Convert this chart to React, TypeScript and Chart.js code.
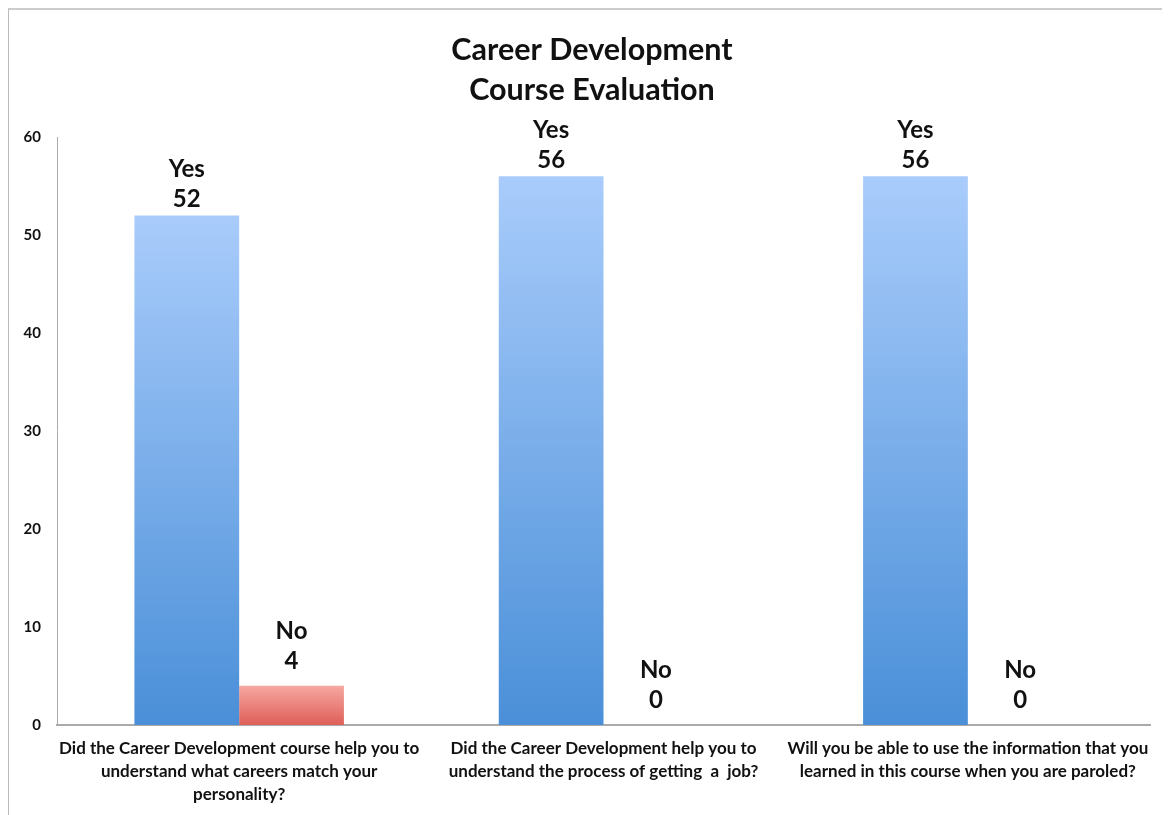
import React, { useEffect, useRef } from "react";
import { Chart, registerables } from "chart.js";

Chart.register(...registerables);

const categories: string[][] = [
  ["Did the Career Development course help you to", "understand what careers match your", "personality?"],
  ["Did the Career Development help you to", "understand the process of getting  a  job?"],
  ["Will you be able to use the information that you", "learned in this course when you are paroled?"],
];
const yesValues = [52, 56, 56];
const noValues = [4, 0, 0];
const titleLines = ["Career Development", "Course Evaluation"];
const FONT = "Lato, 'Open Sans', sans-serif";

const labelPlugin = {
  id: "barLabels",
  afterDatasetsDraw(chart: any) {
    const ctx = chart.ctx;
    ctx.save();
    ctx.fillStyle = "#111";
    ctx.textAlign = "center";
    ctx.textBaseline = "middle";
    // title
    ctx.font = `bold 30.5px ${FONT}`;
    titleLines.forEach((t, i) => {
      ctx.fillText(t, 583, 40 + i * 40);
    });
    // value labels
    ctx.font = `bold 24px ${FONT}`;
    chart.data.datasets.forEach((ds: any, di: number) => {
      const meta = chart.getDatasetMeta(di);
      const off = di === 0 ? 16 : 25;
      meta.data.forEach((el: any, i: number) => {
        const v = ds.data[i];
        ctx.fillText(String(v), el.x, el.y - off);
        ctx.fillText(ds.label, el.x, el.y - off - 30);
      });
    });
    // category labels
    const xs = chart.scales.x;
    ctx.font = `bold 17px ${FONT}`;
    chart.data.labels.forEach((lines: string[], i: number) => {
      const x = xs.getPixelForValue(i);
      lines.forEach((t: string, j: number) => {
        ctx.fillText(t, x, xs.top + 24 + j * 23);
      });
    });
    ctx.restore();
  },
};

function makeGradient(ctx: any, top: string, bottom: string) {
  const chart = ctx.chart;
  const area = chart.chartArea;
  if (!area) return bottom;
  const v = ctx.raw ?? 0;
  const yTop = chart.scales.y.getPixelForValue(v);
  const yBot = chart.scales.y.getPixelForValue(0);
  if (yBot - yTop < 1) return bottom;
  const g = chart.ctx.createLinearGradient(0, yTop, 0, yBot);
  g.addColorStop(0, top);
  g.addColorStop(1, bottom);
  return g;
}

export default function App() {
  const ref = useRef<HTMLCanvasElement>(null);
  useEffect(() => {
    if (!ref.current) return;
    const chart = new Chart(ref.current, {
      type: "bar",
      data: {
        labels: categories,
        datasets: [
          {
            label: "Yes",
            data: yesValues,
            backgroundColor: (c: any) => makeGradient(c, "#a9ccfb", "#4a8fd8"),
            barPercentage: 1,
            categoryPercentage: 0.575,
          },
          {
            label: "No",
            data: noValues,
            backgroundColor: (c: any) => makeGradient(c, "#f6a8a1", "#de5f58"),
            barPercentage: 1,
            categoryPercentage: 0.575,
          },
        ],
      },
      plugins: [labelPlugin],
      options: {
        animation: false,
        responsive: false,
        layout: { padding: { left: 0, right: 20, top: 127, bottom: 0 } },
        plugins: {
          legend: { display: false },
          tooltip: { enabled: false },
          title: { display: false },
        },
        scales: {
          x: {
            grid: { display: false, drawTicks: false },
            border: { display: true, color: "#aaa", width: 2 },
            ticks: { display: false },
            afterFit: (s: any) => {
              s.height = 90;
            },
          },
          y: {
            min: 0,
            max: 60,
            grid: { display: false, drawTicks: false },
            border: { display: true, color: "#aaa", width: 1 },
            ticks: {
              stepSize: 10,
              color: "#111",
              font: { family: FONT, size: 15, weight: "bold" },
              padding: 16,
            },
            afterFit: (s: any) => {
              s.width = 48;
            },
          },
        },
      },
    });
    return () => chart.destroy();
  }, []);
  return (
    <div style={{ width: 1162, height: 807, borderLeft: "1px solid #bbb", borderTop: "2px solid #ccc", boxSizing: "border-box" }}>
      <canvas ref={ref} width={1161} height={805} />
    </div>
  );
}
